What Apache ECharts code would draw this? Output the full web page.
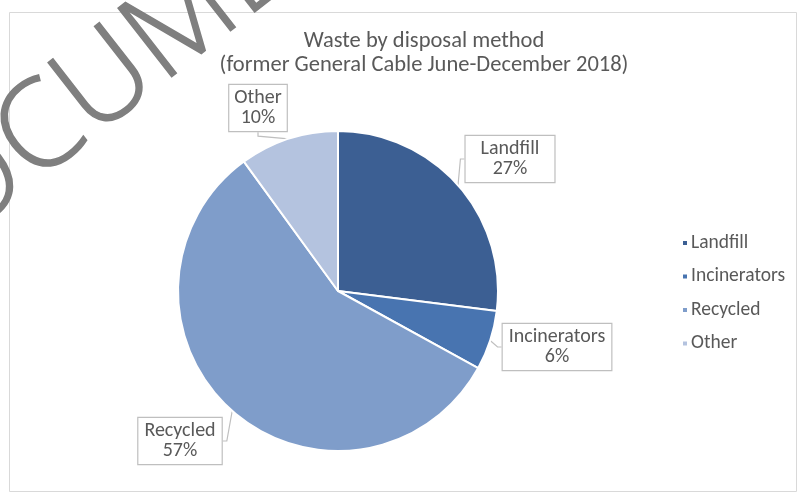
<!DOCTYPE html>
<html>
<head>
<meta charset="utf-8">
<script src="https://cdn.jsdelivr.net/npm/echarts@6/dist/echarts.min.js"></script>
<style>
html,body{margin:0;padding:0;background:#fff;}
#chart{width:799px;height:495px;}
</style>
</head>
<body>
<div id="chart"></div>
<script>
const titleLines = ['Waste by disposal method', '(former General Cable June-December 2018)'];
const categories = ['Landfill', 'Incinerators', 'Recycled', 'Other'];
const values = [27, 6, 57, 10];
const colors = ['#3C5F93', '#4874B0', '#7F9DCA', '#B4C3DF'];
const labelCenters = [[510, 159], [557, 347], [180, 441], [258, 108]];
const labelPadding = [[3, 15], [3, 6], [3, 6], [3, 5]];
const watermark = 'DOCUMENT';

const FONT = 'Carlito, Calibri, Roboto, sans-serif';
const chart = echarts.init(document.getElementById('chart'), null, {renderer: 'canvas'});

const data = categories.map((c, i) => ({
  name: c,
  value: values[i],
  itemStyle: {color: colors[i]},
  label: {padding: labelPadding[i]}
}));

chart.setOption({
  animation: false,
  backgroundColor: '#ffffff',
  title: {
    text: titleLines.join('\n'),
    left: 419,
    top: 24,
    textAlign: 'center',
    textStyle: {fontFamily: FONT, fontSize: 22.5, lineHeight: 24, fontWeight: 'normal', color: '#595959'}
  },
  legend: {
    orient: 'vertical',
    left: 676,
    top: 228,
    icon: 'rect',
    itemWidth: 6,
    itemHeight: 6,
    itemGap: 13.5,
    data: categories,
    textStyle: {fontFamily: FONT, fontSize: 19.5, color: '#595959', padding: [0, 0, 0, -2]}
  },
  graphic: [
    {
      type: 'rect',
      shape: {x: 9.5, y: 12.5, width: 787, height: 479},
      style: {fill: 'none', stroke: '#d9d9d9', lineWidth: 1},
      z: -10, silent: true
    },
    {
      type: 'text',
      x: -92, y: 316,
      rotation: 38 * Math.PI / 180,
      style: {
        text: watermark,
        fill: '#7f7f7f',
        stroke: '#7f7f7f',
        lineWidth: 1.5,
        font: '300 122px "Open Sans", Roboto, sans-serif',
        textAlign: 'left',
        textVerticalAlign: 'bottom'
      },
      z: 100, silent: true
    }
  ],
  series: [{
    type: 'pie',
    center: [338, 291],
    radius: [0, 160],
    startAngle: 90,
    clockwise: true,
    data: data,
    itemStyle: {borderColor: '#ffffff', borderWidth: 2},
    label: {
      show: true,
      position: 'outside',
      formatter: '{b}\n{d}%',
      fontFamily: FONT,
      fontSize: 20,
      lineHeight: 20,
      color: '#595959',
      backgroundColor: '#ffffff',
      borderColor: '#bfbfbf',
      borderWidth: 1.2,
      align: 'center'
    },
    labelLine: {show: true, length: 6, length2: 4, lineStyle: {color: '#bfbfbf', width: 1.2}},
    labelLayout: function (params) {
      const p = labelCenters[params.dataIndex];
      return {x: p[0], y: p[1], align: 'center', verticalAlign: 'middle'};
    }
  }]
});
</script>
</body>
</html>
